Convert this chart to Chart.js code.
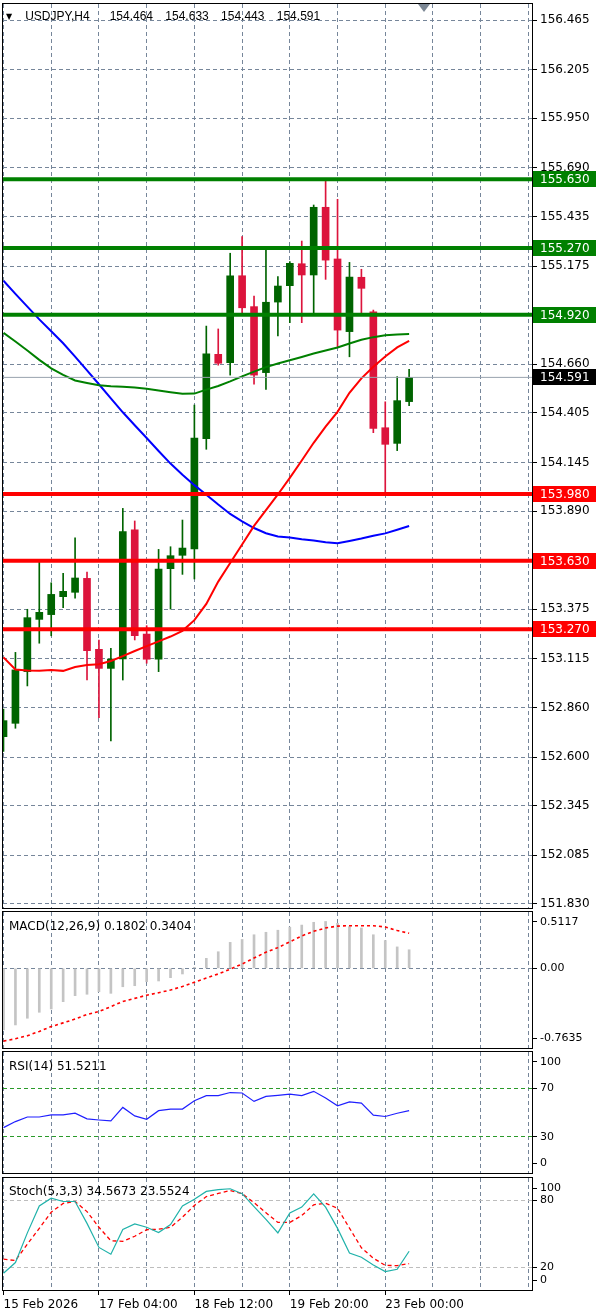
<!DOCTYPE html>
<html>
<head>
<meta charset="utf-8">
<script src="https://cdn.jsdelivr.net/npm/chart.js@4.4.1/dist/chart.umd.min.js"></script>
<style>
  body { margin: 0; background: #fff; width: 600px; height: 1315px; position: relative; overflow: hidden; }
  canvas { position: absolute; left: 0; }
  .lbl { position: absolute; font-family: 'DejaVu Sans', sans-serif; font-size: 12px; line-height: 14px; color: #000; white-space: pre; z-index: 5; }
  #header { font-family: 'Liberation Sans', Arial, sans-serif; word-spacing: 9px; }
  #header .arrow { font-family: 'DejaVu Sans', sans-serif; font-size: 8px; vertical-align: 1px; margin-right: 13px; }
  #header .vals { margin-left: 20px; }
  #shiftMark { position: absolute; left: 418px; top: 4px; width: 0; height: 0; border-left: 6px solid transparent; border-right: 6px solid transparent; border-top: 8px solid #7b8794; z-index: 5; }
</style>
</head>
<body>
<canvas id="mainChart" width="600" height="912" style="top:0px"></canvas>
<canvas id="macdChart" width="600" height="140" style="top:910px"></canvas>
<canvas id="rsiChart" width="600" height="126" style="top:1049px"></canvas>
<canvas id="stochChart" width="600" height="140" style="top:1175px"></canvas>

<div id="header" class="lbl" style="left:6px; top:9px;"><span class="arrow">▼</span>USDJPY,H4<span class="vals">154.464 154.633 154.443 154.591</span></div>
<div id="shiftMark"></div>
<div class="lbl" style="left:9px; top:919px;">MACD(12,26,9) 0.1802 0.3404</div>
<div class="lbl" style="left:9px; top:1059px;">RSI(14) 51.5211</div>
<div class="lbl" style="left:9px; top:1184px;">Stoch(5,3,3) 34.5673 23.5524</div>

<script>
// USDJPY H4 candles (bar index 0..34)
const openPrices  = [152.707,152.777,153.048,153.322,153.347,153.441,153.464,153.537,153.165,153.065,153.114,153.791,153.245,153.113,153.588,153.658,153.691,154.269,154.712,154.668,155.124,154.962,154.616,154.986,155.072,155.187,155.128,155.483,155.212,154.831,155.116,154.935,154.327,154.245,154.464];
const highPrices  = [152.852,153.149,153.375,153.628,153.514,153.564,153.750,153.570,153.214,153.170,153.904,153.838,153.289,153.689,153.703,153.843,154.446,154.860,154.845,155.242,155.329,155.018,155.259,155.119,155.198,155.306,155.495,155.630,155.525,155.194,155.158,154.944,154.463,154.595,154.633];
const lowPrices   = [152.630,152.751,152.973,153.197,153.236,153.383,153.433,153.004,152.806,152.684,153.004,153.214,153.092,153.048,153.376,153.558,153.534,154.214,154.655,154.603,154.918,154.556,154.528,154.808,154.878,154.878,154.927,155.105,154.752,154.699,154.927,154.301,153.986,154.207,154.443];
const closePrices = [152.791,153.057,153.331,153.359,153.453,153.469,153.539,153.158,153.065,153.114,153.782,153.236,153.113,153.586,153.656,153.696,154.273,154.714,154.665,155.124,154.956,154.603,154.985,155.070,155.189,155.128,155.483,155.206,154.839,155.117,155.058,154.324,154.240,154.469,154.591];

// moving averages
const maFast = [153.123,153.059,153.054,153.053,153.057,153.052,153.072,153.083,153.087,153.104,153.129,153.156,153.182,153.207,153.232,153.262,153.318,153.403,153.520,153.618,153.715,153.812,153.895,153.977,154.064,154.155,154.248,154.333,154.410,154.510,154.586,154.647,154.701,154.748,154.783];
const maMid  = [154.825,154.779,154.732,154.683,154.638,154.604,154.575,154.562,154.550,154.545,154.542,154.538,154.531,154.522,154.513,154.505,154.506,154.527,154.546,154.570,154.596,154.621,154.645,154.664,154.681,154.698,154.716,154.732,154.748,154.769,154.788,154.802,154.812,154.816,154.818];
const maSlow = [155.098,155.029,154.962,154.895,154.833,154.770,154.700,154.628,154.555,154.481,154.408,154.340,154.273,154.205,154.139,154.081,154.026,153.976,153.924,153.875,153.836,153.801,153.774,153.757,153.751,153.742,153.736,153.726,153.721,153.733,153.746,153.761,153.773,153.792,153.812];

// horizontal levels
const resistanceLevels = [155.630, 155.270, 154.920];
const supportLevels = [153.980, 153.630, 153.270];
const lastPrice = 154.591;

// indicators
const macdHist = [-0.599,-0.550,-0.485,-0.427,-0.395,-0.324,-0.266,-0.252,-0.227,-0.243,-0.179,-0.169,-0.130,-0.123,-0.091,-0.055,0.010,0.097,0.161,0.252,0.280,0.326,0.350,0.370,0.400,0.420,0.447,0.455,0.437,0.405,0.392,0.326,0.270,0.208,0.1802];
const macdSignal = [-0.707,-0.684,-0.655,-0.613,-0.566,-0.530,-0.493,-0.448,-0.420,-0.372,-0.322,-0.292,-0.261,-0.237,-0.211,-0.176,-0.136,-0.095,-0.055,-0.008,0.042,0.100,0.156,0.201,0.257,0.315,0.359,0.392,0.410,0.414,0.414,0.414,0.401,0.367,0.3404];
const rsiValues = [37.5,42.5,46.3,46.3,48,48,49.4,44.8,43.8,43,54.2,47.2,44.4,51.5,52.8,52.8,59.7,63.9,63.9,66.5,66.1,59.2,63.3,64.2,65.2,63.9,67.5,61.9,55.5,58.8,57.8,47.8,46.7,49.4,51.52];
const stochMain = [15,24.5,51,75,82,79,79,59.5,38,32,54,59,56,51.3,58.5,75,81,88,89.6,90.4,86,74.5,63,51,68.7,74,85.9,74,55,33,29.3,22.4,16.4,18.5,34.57];
const stochSignal = [27.5,26.3,41,55,69.5,77.3,79,70,56,44,43.5,48,53.8,54.3,56,65,75.5,83.4,86.2,88.8,86,78,69,60.3,60.3,66.5,76.1,77.5,73,55.3,37.7,28.4,22,21.8,23.55];

// axis ticks
const priceTicks = [156.465,156.205,155.950,155.690,155.435,155.175,154.920,154.660,154.405,154.145,153.890,153.630,153.375,153.115,152.860,152.600,152.345,152.085,151.830];
const macdTicks = [0.5117, 0, -0.7635];
const macdTickLabels = ['0.5117', '0.00', '-0.7635'];
const rsiTicks = [100, 70, 30, 0];
const rsiLevels = [70, 30];
const stochTicks = [100, 80, 20, 0];
const stochLevels = [80, 20];
const xGridIdx = [0,4,8,12,16,20,24,28,32,36,40,44];
const xLabelIdx = [0, 8, 16, 24, 32];
const xLabels = ['15 Feb 2026', '17 Feb 04:00', '18 Feb 12:00', '19 Feb 20:00', '23 Feb 00:00'];

// axis ranges
const xMin = -0.042, xMax = 44.30;
const priceMin = 151.8085, priceMax = 156.549;
const macdMin = -0.774, macdMax = 0.547;

const GRID = '#76869a';
const BULL = '#006400', BEAR = '#dc143c';
const LEVEL_GREEN = '#008000', LEVEL_RED = '#ff0000';

Chart.defaults.font.family = "'DejaVu Sans', sans-serif";
Chart.defaults.font.size = 12;
Chart.defaults.color = '#000';
Chart.defaults.animation = false;
Chart.defaults.events = [];
Chart.defaults.plugins.legend.display = false;
Chart.defaults.plugins.tooltip.enabled = false;

const pts = arr => arr.map((y, i) => ({ x: i, y: y }));
const isBull = i => closePrices[i] >= openPrices[i];

// keep edge labels inside the panel, like the terminal does
function insideTicks(values, min, max, areaH) {
    const pad = 10 * (max - min) / areaH;
    return values.map(v => ({ value: Math.min(Math.max(v, min + pad), max - pad) }));
}

const framePlugin = {
    id: 'frame',
    afterDraw(chart) {
        const a = chart.chartArea, ctx = chart.ctx;
        ctx.save();
        ctx.strokeStyle = '#000';
        ctx.lineWidth = 1;
        ctx.strokeRect(a.left - 0.5, a.top - 0.5, a.right - a.left + 1, a.bottom - a.top + 1);
        ctx.restore();
    }
};

const levelTagPlugin = {
    id: 'levelTags',
    afterDraw(chart) {
        const y = chart.scales.y, ctx = chart.ctx, right = chart.chartArea.right;
        const tags = resistanceLevels.map(v => [v, LEVEL_GREEN])
            .concat(supportLevels.map(v => [v, LEVEL_RED]))
            .concat([[lastPrice, '#000']]);
        ctx.save();
        ctx.font = "12px 'DejaVu Sans'";
        ctx.textBaseline = 'middle';
        ctx.textAlign = 'left';
        tags.forEach(([v, c]) => {
            const py = Math.round(y.getPixelForValue(v));
            ctx.fillStyle = c;
            ctx.fillRect(right + 1, py - 8, 63, 16);
            ctx.fillStyle = '#fff';
            ctx.fillText(v.toFixed(3), right + 8, py + 0.5);
        });
        ctx.restore();
    }
};

function hiddenX() {
    return {
        type: 'linear', min: xMin, max: xMax, offset: false,
        afterBuildTicks: s => { s.ticks = xGridIdx.map(v => ({ value: v })); },
        afterFit: s => { s.height = 0; s.paddingLeft = 0; s.paddingRight = 0; },
        grid: { color: GRID, drawTicks: false, offset: false },
        border: { display: false, dash: [4, 3] },
        ticks: { display: false }
    };
}

function levelLine(v, color) {
    return {
        type: 'line', order: 0,
        data: [{ x: xMin, y: v }, { x: xMax, y: v }],
        borderColor: color, borderWidth: 4, pointRadius: 0
    };
}

function maLine(arr, color) {
    return {
        type: 'line', order: 2, data: pts(arr),
        borderColor: color, borderWidth: 2, pointRadius: 0, tension: 0
    };
}

// ---- main price panel ----
new Chart(document.getElementById('mainChart'), {
    type: 'bar',
    data: {
        datasets: [
            ...resistanceLevels.map(v => levelLine(v, LEVEL_GREEN)),
            ...supportLevels.map(v => levelLine(v, LEVEL_RED)),
            {
                type: 'line', order: 1,
                data: [{ x: xMin, y: lastPrice }, { x: xMax, y: lastPrice }],
                borderColor: '#98a2ad', borderWidth: 1, pointRadius: 0
            },
            maLine(maFast, '#ff0000'),
            maLine(maMid, '#008000'),
            maLine(maSlow, '#0000ff'),
            {
                type: 'bar', order: 3, grouped: false, barThickness: 7,
                data: openPrices.map((o, i) => ({ x: i, y: [o, closePrices[i]] })),
                backgroundColor: openPrices.map((o, i) => isBull(i) ? BULL : BEAR),
                borderWidth: 0
            },
            {
                type: 'bar', order: 4, grouped: false, barThickness: 1,
                data: lowPrices.map((l, i) => ({ x: i, y: [l, highPrices[i]] })),
                backgroundColor: lowPrices.map((l, i) => isBull(i) ? BULL : BEAR),
                borderWidth: 0
            }
        ]
    },
    options: {
        responsive: false,
        layout: { padding: { left: 3, right: 0, top: 4, bottom: 4 } },
        scales: {
            x: hiddenX(),
            y: {
                type: 'linear', position: 'right', min: priceMin, max: priceMax, beginAtZero: false,
                afterBuildTicks: s => { s.ticks = priceTicks.map(v => ({ value: v })); },
                afterFit: s => { s.width = 68; s.paddingTop = 0; s.paddingBottom = 0; },
                grid: { color: GRID, tickColor: '#000', tickLength: 5, tickWidth: 1 },
                border: { display: false, dash: [4, 3] },
                ticks: { padding: 3, autoSkip: false, callback: v => v.toFixed(3) }
            }
        }
    },
    plugins: [framePlugin, levelTagPlugin]
});

// ---- indicator panels ----
function indicatorY(min, max, areaH, tickVals, labelFn, gridFn) {
    return {
        type: 'linear', position: 'right', min: min, max: max, beginAtZero: false,
        afterBuildTicks: s => { s.ticks = insideTicks(tickVals, min, max, areaH); },
        afterFit: s => { s.width = 68; s.paddingTop = 0; s.paddingBottom = 0; },
        grid: {
            color: ctx => gridFn(ctx.index),
            tickColor: '#000', tickLength: 5, tickWidth: 1
        },
        border: { display: false, dash: [4, 3] },
        ticks: { padding: 3, autoSkip: false, font: { size: 11 }, callback: (v, i) => labelFn(i) }
    };
}

new Chart(document.getElementById('macdChart'), {
    type: 'bar',
    data: {
        datasets: [
            {
                type: 'line', order: 0, data: pts(macdSignal),
                borderColor: '#ff0000', borderWidth: 1.6, borderDash: [3, 3], pointRadius: 0
            },
            {
                type: 'bar', order: 1, grouped: false, barThickness: 2,
                data: pts(macdHist), backgroundColor: '#c4c4c4', borderWidth: 0
            }
        ]
    },
    options: {
        responsive: false,
        layout: { padding: { left: 3, right: 0, top: 2, bottom: 2 } },
        scales: {
            x: hiddenX(),
            y: indicatorY(macdMin, macdMax, 136, macdTicks,
                i => macdTickLabels[i],
                i => macdTicks[i] === 0 ? GRID : 'rgba(0,0,0,0)')
        }
    },
    plugins: [framePlugin]
});

new Chart(document.getElementById('rsiChart'), {
    type: 'line',
    data: {
        datasets: [{
            data: pts(rsiValues), borderColor: '#1f1fff', borderWidth: 1.2, pointRadius: 0, tension: 0
        }]
    },
    options: {
        responsive: false,
        layout: { padding: { left: 3, right: 0, top: 3, bottom: 2 } },
        scales: {
            x: hiddenX(),
            y: indicatorY(0, 100, 121, rsiTicks,
                i => String(rsiTicks[i]),
                i => rsiLevels.includes(rsiTicks[i]) ? '#2a9a2a' : 'rgba(0,0,0,0)')
        }
    },
    plugins: [framePlugin]
});

const stochX = hiddenX();
stochX.afterFit = s => { s.height = 25; s.paddingLeft = 0; s.paddingRight = 0; };
stochX.grid = {
    color: GRID, offset: false, drawTicks: true, tickLength: 5, tickWidth: 1,
    tickColor: ctx => xLabelIdx.includes(ctx.tick && ctx.tick.value) ? '#000' : 'rgba(0,0,0,0)'
};
stochX.ticks = {
    display: true, align: 'start', maxRotation: 0, minRotation: 0, autoSkip: false, padding: 3,
    callback: v => { const j = xLabelIdx.indexOf(v); return j >= 0 ? xLabels[j] : ''; }
};

new Chart(document.getElementById('stochChart'), {
    type: 'line',
    data: {
        datasets: [
            { data: pts(stochMain), borderColor: '#20b2aa', borderWidth: 1.2, pointRadius: 0, tension: 0 },
            { data: pts(stochSignal), borderColor: '#ff0000', borderWidth: 1.3, borderDash: [4, 3], pointRadius: 0, tension: 0 }
        ]
    },
    options: {
        responsive: false,
        layout: { padding: { left: 3, right: 0, top: 3, bottom: 0 } },
        scales: {
            x: stochX,
            y: indicatorY(0, 100, 112, stochTicks,
                i => String(stochTicks[i]),
                i => stochLevels.includes(stochTicks[i]) ? '#bdbdbd' : 'rgba(0,0,0,0)')
        }
    },
    plugins: [framePlugin]
});
</script>
</body>
</html>
